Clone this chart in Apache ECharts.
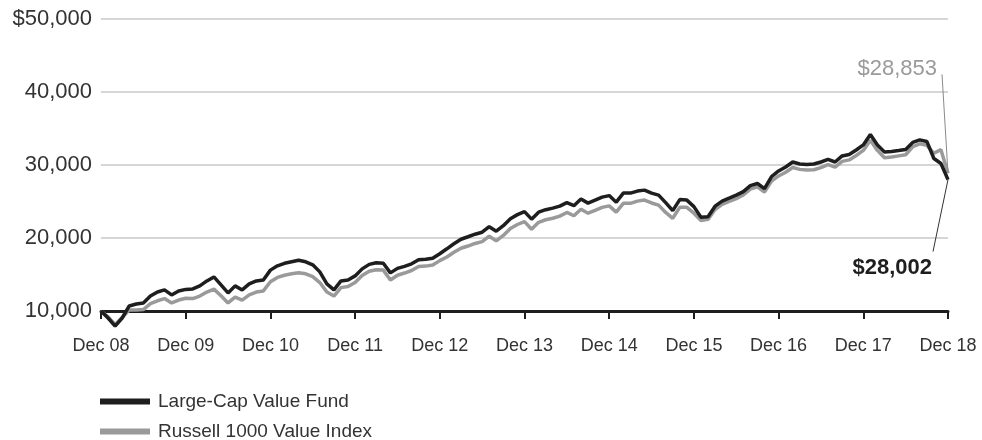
<!DOCTYPE html>
<html>
<head>
<meta charset="utf-8">
<script src="https://cdn.jsdelivr.net/npm/echarts@6/dist/echarts.min.js"></script>
<style>
html,body{margin:0;padding:0;background:#fff;}
#chart{width:982px;height:440px;}
</style>
</head>
<body>
<div id="chart"></div>
<script>
// Tick labels (one every 12 months, Dec 08 .. Dec 18)
const xTickLabels = ['Dec 08','Dec 09','Dec 10','Dec 11','Dec 12','Dec 13','Dec 14','Dec 15','Dec 16','Dec 17','Dec 18'];
const yTicks = [10000, 20000, 30000, 40000, 50000];
const seriesNames = ['Large-Cap Value Fund', 'Russell 1000 Value Index'];

// Monthly growth of $10,000 (Dec 08 .. Dec 18)
const fundValues = [
  10000, 9040, 7940, 9040, 10690, 10960, 11100, 12060, 12610, 12890, 12200, 12750,
  12960, 13020, 13440, 14120, 14670, 13570, 12470, 13440, 12890, 13710, 14120, 14260,
  15600, 16190, 16530, 16740, 16940, 16740, 16320, 15360, 13710, 12890, 14120, 14260,
  14810, 15770, 16390, 16600, 16530, 15220, 15840, 16120, 16460, 17010, 17080, 17220,
  17840, 18520, 19210, 19830, 20170, 20520, 20790, 21550, 20930, 21680, 22650, 23200,
  23610, 22580, 23540, 23880, 24090, 24360, 24850, 24430, 25330, 24780, 25190, 25600,
  25810, 24910, 26150, 26150, 26430, 26560, 26150, 25880, 24850, 23750, 25260, 25190,
  24300, 22850, 22920, 24360, 25050, 25460, 25880, 26360, 27180, 27460, 26770, 28420,
  29180, 29730, 30410, 30140, 30070, 30140, 30410, 30760, 30410, 31240, 31440, 32060,
  32750, 34190, 32750, 31790, 31860, 31990, 32130, 33090, 33440, 33230, 30890, 30210,
  28002
];
const indexValues = [
  10000, 9200, 8150, 9100, 10150, 10140, 10200, 11000, 11400, 11700, 11100, 11500,
  11750, 11700, 12050, 12600, 13000, 12100, 11100, 11900, 11500, 12200, 12600, 12750,
  14000, 14600, 14900, 15100, 15250, 15100, 14700, 13900, 12600, 12050, 13200, 13350,
  13900, 14850, 15450, 15650, 15600, 14250, 14900, 15200, 15550, 16100, 16150, 16300,
  16900, 17400, 18050, 18600, 18900, 19250, 19500, 20250, 19600, 20350, 21300, 21850,
  22250, 21200, 22150, 22500, 22700, 23000, 23500, 23050, 23950, 23400, 23800, 24200,
  24400, 23550, 24750, 24750, 25050, 25200, 24800, 24500, 23500, 22700, 24200, 24200,
  23400, 22400, 22550, 23900, 24600, 25000, 25400, 25900, 26700, 27000, 26300, 27800,
  28500, 29000, 29650, 29400, 29300, 29350, 29650, 30050, 29700, 30500, 30700, 31300,
  32000, 33400, 32000, 31000, 31100, 31250, 31400, 32500, 32900, 32700, 31600, 32100,
  28853
];
const endLabels = ['$28,002', '$28,853'];

const FONT = "'Liberation Sans', Arial, sans-serif";
const chart = echarts.init(document.getElementById('chart'), null, {renderer: 'canvas'});

function fmt(v) {
  const s = v.toLocaleString('en-US');
  return v === yTicks[yTicks.length - 1] ? '$' + s : s;
}

function legendFor(name, top) {
  return {
    orient: 'horizontal',
    left: 100,
    top: top,
    padding: 0,
    icon: 'rect',
    itemWidth: 50,
    itemHeight: 6,
    textStyle: {fontFamily: FONT, fontSize: 19, color: '#333', padding: [0, 0, 0, 3]},
    data: [name]
  };
}

const option = {
  animation: false,
  backgroundColor: '#fff',
  grid: {left: 101, right: 34, top: 19, bottom: 129, containLabel: false},
  legend: [legendFor(seriesNames[0], 392), legendFor(seriesNames[1], 422)],
  xAxis: {
    type: 'value',
    min: 0,
    max: (xTickLabels.length - 1) * 12,
    interval: 12,
    axisLine: {show: true, lineStyle: {color: '#1e1e1e', width: 3}},
    axisTick: {show: true, length: 8, lineStyle: {color: '#1e1e1e', width: 2}},
    axisLabel: {
      fontFamily: FONT, fontSize: 18, color: '#333', margin: 26,
      formatter: v => xTickLabels[Math.round(v / 12)] || ''
    },
    splitLine: {show: false}
  },
  yAxis: {
    type: 'value',
    min: yTicks[0],
    max: yTicks[yTicks.length - 1],
    interval: 10000,
    axisLine: {show: false},
    axisTick: {show: false},
    axisLabel: {fontFamily: FONT, fontSize: 22, color: '#333', margin: 9, formatter: fmt},
    splitLine: {show: true, lineStyle: {color: '#c9c9c9', width: 1.5}}
  },
  series: [
    {
      name: seriesNames[1],
      type: 'line',
      data: indexValues.map((v, i) => [i, v]),
      showSymbol: false,
      symbol: 'none',
      clip: false,
      z: 2,
      lineStyle: {color: '#9a9a9a', width: 3.5},
      itemStyle: {color: '#9a9a9a'}
    },
    {
      name: seriesNames[0],
      type: 'line',
      data: fundValues.map((v, i) => [i, v]),
      showSymbol: false,
      symbol: 'none',
      clip: false,
      z: 3,
      lineStyle: {color: '#1e1e1e', width: 3.5},
      itemStyle: {color: '#1e1e1e'}
    }
  ]
};
chart.setOption(option);

// End annotations anchored to the final data points
const last = fundValues.length - 1;
const pB = chart.convertToPixel({gridIndex: 0}, [last, fundValues[last]]);
const pG = chart.convertToPixel({gridIndex: 0}, [last, indexValues[last]]);
chart.setOption({
  graphic: [
    {type: 'line', z: 10, shape: {x1: pG[0] - 6, y1: pG[1] - 99, x2: pG[0], y2: pG[1]},
     style: {stroke: '#8a8a8a', lineWidth: 1}},
    {type: 'text', z: 10, x: pG[0] - 11, y: pG[1] - 104,
     style: {text: endLabels[1], fill: '#9a9a9a', font: "22px " + FONT, textAlign: 'right', textVerticalAlign: 'middle'}},
    {type: 'line', z: 10, shape: {x1: pB[0] - 15, y1: pB[1] + 72, x2: pB[0], y2: pB[1]},
     style: {stroke: '#333', lineWidth: 1}},
    {type: 'text', z: 10, x: pB[0] - 16, y: pB[1] + 88,
     style: {text: endLabels[0], fill: '#1e1e1e', font: "bold 22px " + FONT, textAlign: 'right', textVerticalAlign: 'middle'}}
  ]
});
</script>
</body>
</html>
